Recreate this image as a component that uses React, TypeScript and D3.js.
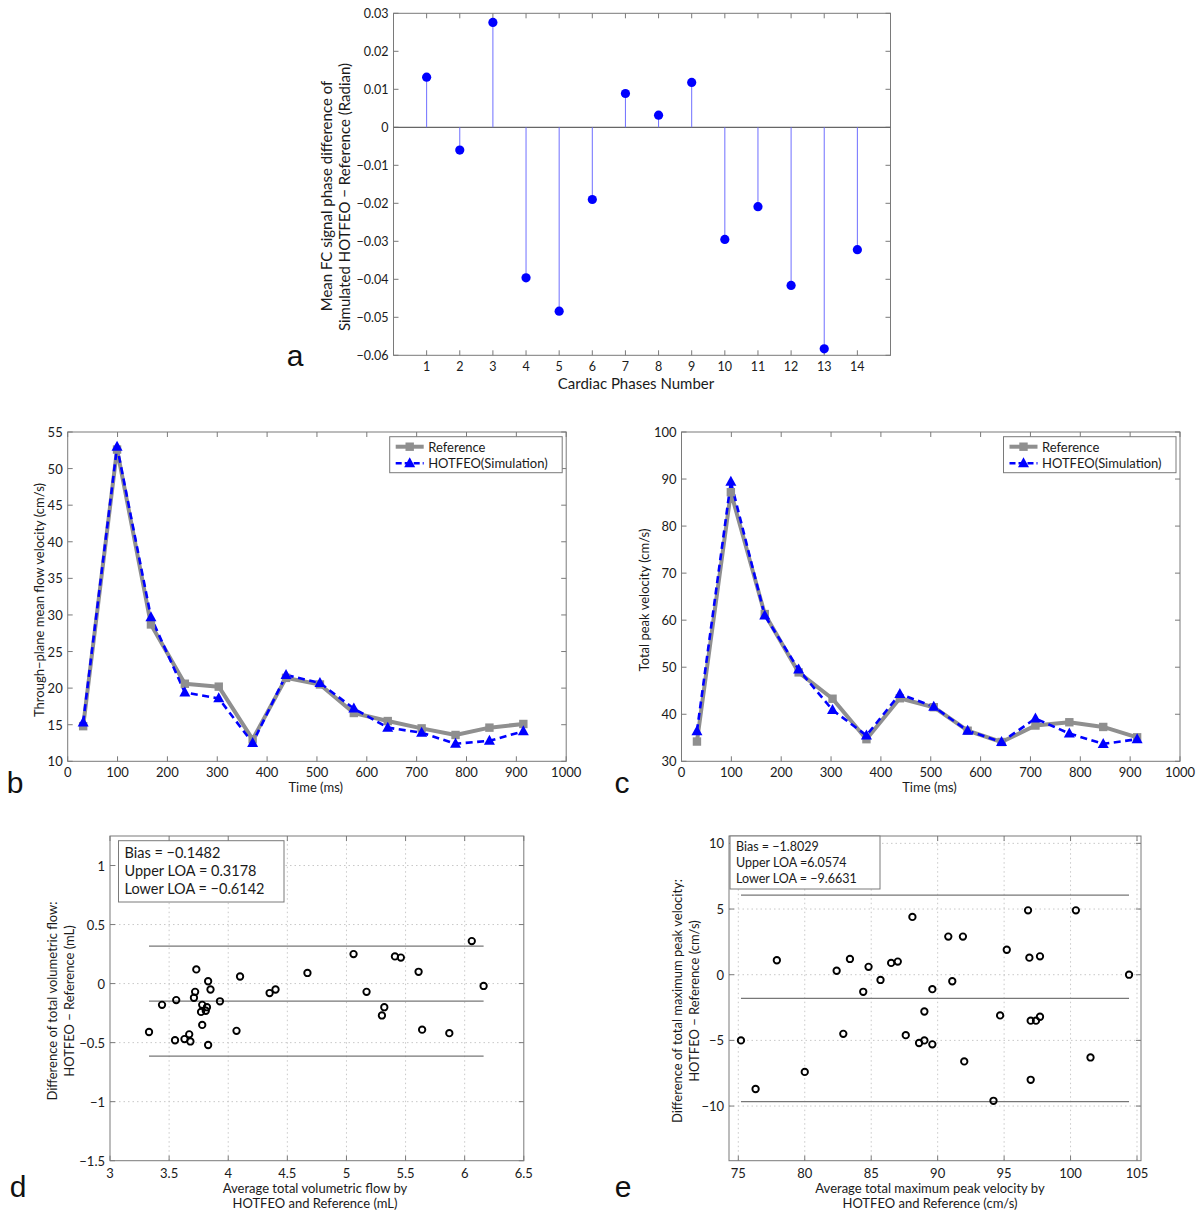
import React from "react";
import * as d3 from "d3";

// ---- data ----
const phaseNumbers = [1, 2, 3, 4, 5, 6, 7, 8, 9, 10, 11, 12, 13, 14];
const phaseDiff = [0.0132, -0.006, 0.0276, -0.0396, -0.0484, -0.019, 0.0089, 0.0032, 0.0118, -0.0295, -0.0209, -0.0416, -0.0583, -0.0322];

const timeMs = [31, 99, 167, 235, 303, 371, 438, 506, 574, 642, 710, 778, 846, 914];
const meanVelRef = [14.8, 52.6, 28.7, 20.6, 20.2, 13.0, 21.4, 20.5, 16.6, 15.5, 14.5, 13.6, 14.6, 15.1];
const meanVelHot = [15.3, 53.0, 29.7, 19.4, 18.6, 12.5, 21.8, 20.7, 17.2, 14.6, 13.9, 12.4, 12.8, 14.1];
const peakVelRef = [34.2, 87.2, 61.3, 48.9, 43.3, 34.7, 43.4, 41.5, 36.5, 34.1, 37.6, 38.3, 37.3, 35.1];
const peakVelHot = [36.4, 89.4, 61.0, 49.5, 40.9, 35.5, 44.3, 41.6, 36.5, 34.1, 39.1, 35.9, 33.7, 34.7];

const flowMean = [3.33, 3.44, 3.56, 3.55, 3.63, 3.67, 3.68, 3.73, 3.72, 3.71, 3.78, 3.77, 3.78, 3.83, 3.85, 3.82, 3.81, 3.83, 3.93, 4.07, 4.1, 4.35, 4.4, 4.67, 5.06, 5.17, 5.3, 5.32, 5.41, 5.46, 5.61, 5.64, 5.87, 6.06, 6.16];
const flowDiff = [-0.41, -0.18, -0.14, -0.48, -0.47, -0.43, -0.49, 0.12, -0.07, -0.12, -0.18, -0.24, -0.35, 0.02, -0.05, -0.2, -0.23, -0.52, -0.15, -0.4, 0.06, -0.08, -0.05, 0.09, 0.25, -0.07, -0.27, -0.2, 0.23, 0.22, 0.1, -0.39, -0.42, 0.36, -0.02];
const flowStats = { bias: -0.1482, upper: 0.3178, lower: -0.6142 };

const peakMean = [75.2, 76.3, 77.9, 80.0, 82.4, 82.9, 83.4, 84.4, 84.8, 85.7, 86.5, 87.0, 87.6, 88.1, 88.6, 89.0, 89.0, 89.6, 89.6, 90.8, 91.1, 91.9, 92.0, 94.2, 94.7, 95.2, 96.8, 96.9, 97.0, 97.0, 97.4, 97.7, 97.7, 100.4, 101.5, 104.4];
const peakDiff = [-5.0, -8.7, 1.1, -7.4, 0.3, -4.5, 1.2, -1.3, 0.6, -0.4, 0.9, 1.0, -4.6, 4.4, -5.2, -5.0, -2.8, -5.3, -1.1, 2.9, -0.5, 2.9, -6.6, -9.6, -3.1, 1.9, 4.9, 1.3, -8.0, -3.5, -3.5, -3.2, 1.4, 4.9, -6.3, 0.0];
const peakStats = { bias: -1.8029, upper: 6.0574, lower: -9.6631 };

const FONT = "Lato, 'Open Sans', sans-serif";
const minus = (s: string) => s.replace("-", "\u2212");

function Box({ x, y, xTicks, yTicks, fmtX, fmtY, grid, fs, xLabOff }: any) {
  const [x0, x1] = x.range();
  const [y0, y1] = y.range();
  const tl = 5;
  return (
    <g>
      {grid &&
        xTicks.filter((t: number) => x(t) > x0 + 1 && x(t) < x1 - 1).map((t: number) => (
          <line key={"gx" + t} x1={x(t)} x2={x(t)} y1={y0} y2={y1} stroke="#c8c8c8" strokeDasharray="1.5,3" />
        ))}
      {grid &&
        yTicks.filter((t: number) => y(t) < y0 - 1 && y(t) > y1 + 1).map((t: number) => (
          <line key={"gy" + t} x1={x0} x2={x1} y1={y(t)} y2={y(t)} stroke="#c8c8c8" strokeDasharray="1.5,3" />
        ))}
      <rect x={x0} y={y1} width={x1 - x0} height={y0 - y1} fill="none" stroke="#7a7a7a" strokeWidth={1} />
      {xTicks.map((t: number) => (
        <g key={"xt" + t}>
          <line x1={x(t)} x2={x(t)} y1={y0} y2={y0 - tl} stroke="#7a7a7a" />
          <line x1={x(t)} x2={x(t)} y1={y1} y2={y1 + tl} stroke="#7a7a7a" />
          <text x={x(t)} y={y0 + xLabOff} textAnchor="middle" dominantBaseline="central" fontSize={fs} fontFamily={FONT} fill="#1a1a1a">
            {fmtX(t)}
          </text>
        </g>
      ))}
      {yTicks.map((t: number) => (
        <g key={"yt" + t}>
          <line x1={x0} x2={x0 + tl} y1={y(t)} y2={y(t)} stroke="#7a7a7a" />
          <line x1={x1} x2={x1 - tl} y1={y(t)} y2={y(t)} stroke="#7a7a7a" />
          <text x={x0 - 5} y={y(t)} textAnchor="end" dominantBaseline="central" fontSize={fs} fontFamily={FONT} fill="#1a1a1a">
            {fmtY(t)}
          </text>
        </g>
      ))}
    </g>
  );
}

function VText({ x, y, fs, children }: any) {
  return (
    <text transform={`translate(${x},${y}) rotate(-90)`} textAnchor="middle" dominantBaseline="central" fontSize={fs} fontFamily={FONT} fill="#1a1a1a">
      {children}
    </text>
  );
}

function HText({ x, y, fs, children, anchor = "middle" }: any) {
  return (
    <text x={x} y={y} textAnchor={anchor} dominantBaseline="central" fontSize={fs} fontFamily={FONT} fill="#1a1a1a">
      {children}
    </text>
  );
}

function Letter({ x, y, children }: any) {
  return (
    <text x={x} y={y} textAnchor="middle" dominantBaseline="central" fontSize={30} fontFamily="'Liberation Sans', Arial, sans-serif" fill="#111">
      {children}
    </text>
  );
}

function StemPanel() {
  const x = d3.scaleLinear().domain([0, 15]).range([393.5, 890.5]);
  const y = d3.scaleLinear().domain([-0.06, 0.03]).range([355.3, 13.3]);
  const yTicks = d3.range(-0.06, 0.0301, 0.01).map((v) => Math.round(v * 100) / 100);
  return (
    <g>
      <Box x={x} y={y} xTicks={phaseNumbers} yTicks={yTicks} fmtX={(t: number) => t} fmtY={(t: number) => minus(String(t))} fs={12.5} xLabOff={11} />
      <line x1={x(0)} x2={x(15)} y1={y(0)} y2={y(0)} stroke="#666" strokeWidth={1.3} />
      {phaseDiff.map((v, i) => (
        <g key={i}>
          <line x1={x(phaseNumbers[i])} x2={x(phaseNumbers[i])} y1={y(0)} y2={y(v)} stroke="#6f6fff" strokeWidth={1} />
          <circle cx={x(phaseNumbers[i])} cy={y(v)} r={4.6} fill="#0000ff" />
        </g>
      ))}
      <VText x={326} y={196} fs={15}>Mean FC signal phase difference of</VText>
      <VText x={343.5} y={197} fs={15}>Simulated HOTFEO − Reference (Radian)</VText>
      <HText x={636} y={383} fs={15}>Cardiac Phases Number</HText>
      <Letter x={295} y={355}>a</Letter>
    </g>
  );
}

function Triangle({ cx, cy }: any) {
  return <path d={`M${cx},${cy - 6} L${cx + 5.5},${cy + 4} L${cx - 5.5},${cy + 4} Z`} fill="#0000ff" />;
}

function LinePanel({ left, ref0, hot, yDomain, yTicks, ylabel, ylabelX, letter, letterX }: any) {
  const x = d3.scaleLinear().domain([0, 1000]).range([left, left + 498.5]);
  const y = d3.scaleLinear().domain(yDomain).range([761.3, 432]);
  const line = d3.line<number>().x((_, i) => x(timeMs[i])).y((d) => y(d));
  const lx = left + 322;
  return (
    <g>
      <Box x={x} y={y} xTicks={d3.range(0, 1001, 100)} yTicks={yTicks} fmtX={(t: number) => t} fmtY={(t: number) => t} fs={13} xLabOff={10.5} />
      <path d={line(ref0) || ""} fill="none" stroke="#8f8f8f" strokeWidth={4} strokeLinejoin="round" />
      <path d={line(hot) || ""} fill="none" stroke="#0000ff" strokeWidth={2.6} strokeDasharray="7,4.5" />
      {ref0.map((v: number, i: number) => (
        <rect key={"s" + i} x={x(timeMs[i]) - 4.2} y={y(v) - 4.2} width={8.4} height={8.4} fill="#8f8f8f" />
      ))}
      {hot.map((v: number, i: number) => (
        <Triangle key={"t" + i} cx={x(timeMs[i])} cy={y(v)} />
      ))}
      <rect x={lx} y={436.7} width={172.5} height={36} fill="#fff" stroke="#7a7a7a" />
      <line x1={lx + 6} x2={lx + 34} y1={446.7} y2={446.7} stroke="#8f8f8f" strokeWidth={4} />
      <rect x={lx + 20 - 4.2} y={446.7 - 4.2} width={8.4} height={8.4} fill="#8f8f8f" />
      <HText x={lx + 38.5} y={446.7} fs={13} anchor="start">Reference</HText>
      <line x1={lx + 6} x2={lx + 34} y1={463.3} y2={463.3} stroke="#0000ff" strokeWidth={2.6} strokeDasharray="6,3" />
      <Triangle cx={lx + 20} cy={463.3} />
      <HText x={lx + 38.5} y={463.3} fs={13} anchor="start">HOTFEO(Simulation)</HText>
      <VText x={ylabelX} y={600} fs={13}>{ylabel}</VText>
      <HText x={left + 248} y={786.5} fs={13}>Time (ms)</HText>
      <Letter x={letterX} y={782}>{letter}</Letter>
    </g>
  );
}

function BlandPanel({ left, right, xDomain, yDomain, xTicks, yTicks, mean, diff, stats, box, ylab1, ylab2, ylabX, xlab1, xlab2, xlabX, letter, letterX }: any) {
  const x = d3.scaleLinear().domain(xDomain).range([left, right]);
  const y = d3.scaleLinear().domain(yDomain).range([1160.7, 836]);
  const [mn, mx] = d3.extent(mean) as [number, number];
  const fmt = (t: number) => minus(String(t));
  return (
    <g>
      <Box x={x} y={y} xTicks={xTicks} yTicks={yTicks} fmtX={fmt} fmtY={fmt} fs={13} xLabOff={12} grid />
      {[stats.upper, stats.bias, stats.lower].map((v: number, i: number) => (
        <line key={i} x1={x(mn)} x2={x(mx)} y1={y(v)} y2={y(v)} stroke="#777" strokeWidth={1.3} />
      ))}
      {mean.map((m: number, i: number) => (
        <circle key={i} cx={x(m)} cy={y(diff[i])} r={3.2} fill="none" stroke="#000" strokeWidth={1.9} />
      ))}
      <rect x={box.x} y={box.y} width={box.w} height={box.h} fill="#fff" stroke="#7a7a7a" />
      <HText x={box.x + 6} y={box.y + box.dy} fs={box.fs} anchor="start">{`Bias = ${minus(String(stats.bias))}`}</HText>
      <HText x={box.x + 6} y={box.y + box.dy + box.ls} fs={box.fs} anchor="start">{box.upperText}</HText>
      <HText x={box.x + 6} y={box.y + box.dy + 2 * box.ls} fs={box.fs} anchor="start">{`Lower LOA = ${minus(String(stats.lower))}`}</HText>
      <VText x={ylabX} y={1001} fs={13}>{ylab1}</VText>
      <VText x={ylabX + 17} y={1001} fs={13}>{ylab2}</VText>
      <HText x={xlabX} y={1187.5} fs={13}>{xlab1}</HText>
      <HText x={xlabX} y={1203} fs={13}>{xlab2}</HText>
      <Letter x={letterX} y={1186}>{letter}</Letter>
    </g>
  );
}

export default function App() {
  return (
    <svg width={1200} height={1218} style={{ position: "absolute", left: 0, top: 0, background: "#fff" }}>
      <rect width={1200} height={1218} fill="#fff" />
      <StemPanel />
      <LinePanel left={67.7} ref0={meanVelRef} hot={meanVelHot} yDomain={[10, 55]} yTicks={d3.range(10, 56, 5)}
        ylabel="Through−plane mean flow velocity (cm/s)" ylabelX={38.5} letter="b" letterX={15} />
      <LinePanel left={681.5} ref0={peakVelRef} hot={peakVelHot} yDomain={[30, 100]} yTicks={d3.range(30, 101, 10)}
        ylabel="Total peak velocity (cm/s)" ylabelX={644} letter="c" letterX={622} />
      <BlandPanel left={110} right={523.8} xDomain={[3, 6.5]} yDomain={[-1.5, 1.25]}
        xTicks={[3, 3.5, 4, 4.5, 5, 5.5, 6, 6.5]} yTicks={[-1.5, -1, -0.5, 0, 0.5, 1]}
        mean={flowMean} diff={flowDiff} stats={flowStats}
        box={{ x: 118.5, y: 840.7, w: 165.5, h: 61.3, dy: 12, ls: 18, fs: 14.5, upperText: `Upper LOA = ${flowStats.upper}` }}
        ylab1="Difference of total volumetric flow:" ylab2="HOTFEO − Reference (mL)" ylabX={52}
        xlab1="Average total volumetric flow by" xlab2="HOTFEO and Reference (mL)" xlabX={315} letter="d" letterX={18} />
      <BlandPanel left={729} right={1141} xDomain={[74.3, 105.3]} yDomain={[-14.16, 10.56]}
        xTicks={[75, 80, 85, 90, 95, 100, 105]} yTicks={[-10, -5, 0, 5, 10]}
        mean={peakMean} diff={peakDiff} stats={peakStats}
        box={{ x: 730, y: 836, w: 150, h: 53, dy: 10.7, ls: 15.8, fs: 12.5, upperText: `Upper LOA =${peakStats.upper}` }}
        ylab1="Difference of total maximum peak velocity:" ylab2="HOTFEO − Reference (cm/s)" ylabX={677}
        xlab1="Average total maximum peak velocity by" xlab2="HOTFEO and Reference (cm/s)" xlabX={930} letter="e" letterX={623} />
    </svg>
  );
}
